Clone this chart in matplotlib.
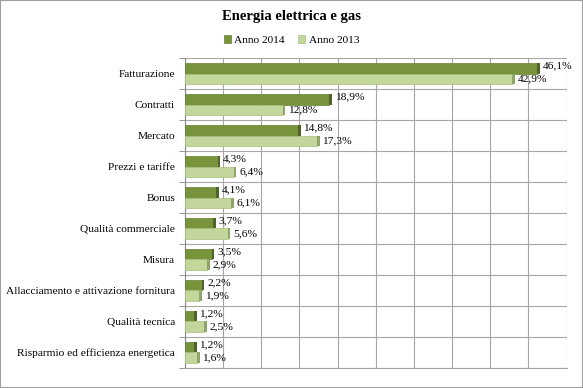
import numpy as np
import matplotlib.pyplot as plt
from matplotlib.patches import Rectangle

plt.rcParams['font.family'] = ['Liberation Serif', 'DejaVu Serif']

categorie = ["Fatturazione", "Contratti", "Mercato", "Prezzi e tariffe", "Bonus",
             "Qualità commerciale", "Misura", "Allacciamento e attivazione fornitura",
             "Qualità tecnica", "Risparmio ed efficienza energetica"]
anno_2014 = [46.1, 18.9, 14.8, 4.3, 4.1, 3.7, 3.5, 2.2, 1.2, 1.2]
anno_2013 = [42.9, 12.8, 17.3, 6.4, 6.1, 5.6, 2.9, 1.9, 2.5, 1.6]

col14 = "#77933C"
col13 = "#C3D69B"

fig = plt.figure(figsize=(5.83, 3.88), dpi=100)
fig.patches.append(Rectangle((0, 0), 1, 1, transform=fig.transFigure, fill=False,
                             edgecolor="#A0A0A0", linewidth=1.5))
ax = fig.add_axes([0.317, 0.052, 0.655, 0.798])

n = len(categorie)
y = np.arange(n)
h = 0.34
ax.barh(y - h / 2, anno_2014, height=h, color=col14, edgecolor="#66812F", linewidth=0.5,
        label="Anno 2014", zorder=3)
ax.barh(y + h / 2, anno_2013, height=h, color=col13, edgecolor="#A9C07E", linewidth=0.5,
        label="Anno 2013", zorder=3)
# lato scuro (effetto 3D)
ax.barh(y - h / 2, 0.35, left=anno_2014, height=h, color="#4F6527", linewidth=0, zorder=3)
ax.barh(y + h / 2, 0.35, left=anno_2013, height=h, color="#8FA668", linewidth=0, zorder=3)

def fmt(v):
    return ("%.1f%%" % v).replace(".", ",")

for i in range(n):
    ax.annotate(fmt(anno_2014[i]), (anno_2014[i] + 0.35, y[i] - h / 2), xytext=(2, 2),
                textcoords="offset points", va="center", ha="left", fontsize=8.2)
    ax.annotate(fmt(anno_2013[i]), (anno_2013[i] + 0.35, y[i] + h / 2), xytext=(2, 0),
                textcoords="offset points", va="center", ha="left", fontsize=8.2)

ax.set_xlim(0, 50)
ax.set_ylim(n - 0.5, -0.5)
ax.set_xticks(np.arange(0, 51, 5))
ax.set_xticklabels([])
ax.set_yticks(y)
ax.set_yticklabels(categorie, fontsize=8.2)
ax.set_yticks(np.arange(-0.5, n, 1), minor=True)
ax.tick_params(axis="y", which="major", length=0, pad=7)
ax.tick_params(axis="y", which="minor", length=4, color="#888888")
ax.tick_params(axis="x", length=0)
ax.grid(True, axis="x", color="#A6A6A6", linewidth=0.8, zorder=0)
ax.grid(True, axis="y", which="minor", color="#A6A6A6", linewidth=0.8, zorder=0)
ax.spines["top"].set_visible(False)
ax.spines["right"].set_visible(False)
ax.spines["left"].set_color("#888888")
ax.spines["bottom"].set_color("#A6A6A6")
ax.axhline(-0.5, color="#D0D0D0", linewidth=0.8, linestyle=":", zorder=1)

fig.suptitle("Energia elettrica e gas", y=0.975, fontsize=10.5, fontweight="bold")
fig.legend(loc="upper center", bbox_to_anchor=(0.5, 0.935), ncol=2, frameon=False,
           fontsize=8.2, handlelength=0.6, handleheight=0.6, columnspacing=1.2,
           handletextpad=0.3)

fig.savefig("out.png", dpi=100)
